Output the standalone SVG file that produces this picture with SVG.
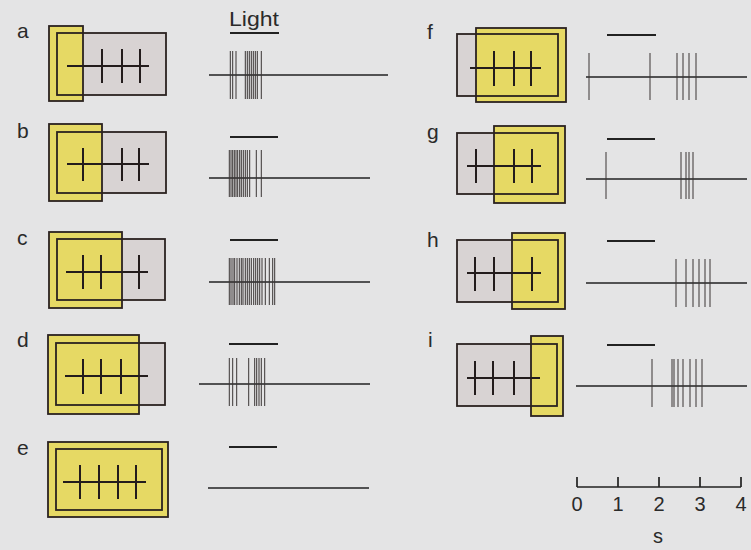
<svg xmlns="http://www.w3.org/2000/svg" width="751" height="550" viewBox="0 0 751 550">
<style>
.bg{fill:#e4e4e5}
.gray{fill:#d8d3d3}
.yel{fill:#e6d964;stroke:#2b2220;stroke-width:1.8}
.out{fill:none;stroke:#2b2220;stroke-width:1.8}
.cell{stroke:#231c1c;stroke-width:2;fill:none}
.bar{stroke:#222;stroke-width:2}
.base{stroke:#222;stroke-width:1.7}
.spk{stroke:#3a3535;stroke-width:1;fill:none}
.lbl{font-family:"Liberation Sans",Arial,sans-serif;font-size:21px;fill:#2a2a2a}
.num{font-family:"Liberation Sans",Arial,sans-serif;font-size:20px;fill:#2a2a2a;text-anchor:middle}
</style>
<rect class="bg" x="0" y="0" width="751" height="550"/>

<g id="panel-a">
<text class="lbl" x="17" y="38">a</text>
<rect class="gray" x="57" y="33" width="109" height="62"/>
<rect class="yel" x="49" y="26" width="34" height="75"/>
<rect class="out" x="57" y="33" width="109" height="62"/>
<path class="cell" d="M67 66H149M102 49V83M122 49V83M140 49V83"/>
<text class="lbl" x="229" y="26" textLength="50" lengthAdjust="spacingAndGlyphs">Light</text>
<line class="bar" x1="230" y1="33" x2="279" y2="33"/>
<line class="base" x1="209" y1="75" x2="388" y2="75"/>
<path class="spk" d="M230.3 51V99M232.7 51V99M236 51V99M245.3 51V99M247.3 51V99M249.3 51V99M251.3 51V99M253.3 51V99M255.3 51V99M257.3 51V99M261.3 51V99"/>
</g>

<g id="panel-b">
<text class="lbl" x="17" y="138">b</text>
<rect class="gray" x="57" y="132" width="109" height="61"/>
<rect class="yel" x="49" y="124" width="53" height="77"/>
<rect class="out" x="57" y="132" width="109" height="61"/>
<path class="cell" d="M67 164H149M83 148V181M122 148V181M139 148V181"/>
<line class="bar" x1="230" y1="137" x2="278" y2="137"/>
<line class="base" x1="209" y1="178" x2="370" y2="178"/>
<path class="spk" d="M229.3 150V197M231 150V197M232.7 150V197M234.3 150V197M236 150V197M237.7 150V197M239.7 150V197M241.3 150V197M243.3 150V197M245.3 150V197M247.3 150V197M249.7 150V197M256.3 150V197M261.3 150V197"/>
</g>

<g id="panel-c">
<text class="lbl" x="17" y="245">c</text>
<rect class="gray" x="57" y="239" width="108" height="61"/>
<rect class="yel" x="49" y="232" width="73" height="76"/>
<rect class="out" x="57" y="239" width="108" height="61"/>
<path class="cell" d="M66 272H148M83 255V289M101 255V289M139 255V289"/>
<line class="bar" x1="230" y1="240" x2="278" y2="240"/>
<line class="base" x1="209" y1="282" x2="370" y2="282"/>
<path class="spk" d="M229.3 258V305M231 258V305M233 258V305M234.7 258V305M237 258V305M239.3 258V305M241.3 258V305M243 258V305M245.3 258V305M247.3 258V305M249.3 258V305M251.3 258V305M253.7 258V305M255.7 258V305M257.7 258V305M259.7 258V305M262 258V305M265.3 258V305M269.3 258V305M272.7 258V305M274.7 258V305"/>
</g>

<g id="panel-d">
<text class="lbl" x="17" y="347">d</text>
<rect class="gray" x="56" y="343" width="109" height="62"/>
<rect class="yel" x="48" y="335" width="91" height="79"/>
<rect class="out" x="56" y="343" width="109" height="62"/>
<path class="cell" d="M65 376H148M83 359V394M101 359V394M121 359V394"/>
<line class="bar" x1="229" y1="344" x2="278" y2="344"/>
<line class="base" x1="199" y1="384" x2="370" y2="384"/>
<path class="spk" d="M229.3 358V406M232.7 358V406M236.7 358V406M248.7 358V406M254.7 358V406M256.7 358V406M259 358V406M261.3 358V406M264.7 358V406"/>
</g>

<g id="panel-e">
<text class="lbl" x="17" y="455">e</text>
<rect class="yel" x="48" y="442" width="120" height="75"/>
<rect class="out" x="56" y="449" width="106" height="61"/>
<path class="cell" d="M63 482H146M80 465V499M99 465V499M118 465V499M136 465V499"/>
<line class="bar" x1="229" y1="447" x2="277" y2="447"/>
<line class="base" x1="208" y1="488" x2="369" y2="488"/>
</g>

<g id="panel-f">
<text class="lbl" x="427" y="39">f</text>
<rect class="gray" x="457" y="34" width="101" height="62"/>
<rect class="yel" x="476" y="28" width="90" height="74"/>
<rect class="out" x="457" y="34" width="101" height="62"/>
<path class="cell" d="M470 68H541M494 51V86M514 51V86M531 51V86"/>
<line class="bar" x1="607" y1="35" x2="656" y2="35"/>
<line class="base" x1="586" y1="77" x2="747" y2="77"/>
<path class="spk" d="M589 53V100M650 53V100M677 53V100M683 53V100M689 53V100M696 53V100"/>
</g>

<g id="panel-g">
<text class="lbl" x="427" y="139">g</text>
<rect class="gray" x="457" y="133" width="101" height="61"/>
<rect class="yel" x="494" y="126" width="71" height="77"/>
<rect class="out" x="457" y="133" width="101" height="61"/>
<path class="cell" d="M467 166H541M476 149V183M514 149V183M532 149V183"/>
<line class="bar" x1="607" y1="139" x2="655" y2="139"/>
<line class="base" x1="586" y1="179" x2="747" y2="179"/>
<path class="spk" d="M606 152V199M681 152V199M686 152V199M689 152V199M693 152V199"/>
</g>

<g id="panel-h">
<text class="lbl" x="427" y="247">h</text>
<rect class="gray" x="457" y="240" width="101" height="62"/>
<rect class="yel" x="512" y="233" width="53" height="76"/>
<rect class="out" x="457" y="240" width="101" height="62"/>
<path class="cell" d="M467 273H541M475 257V291M494 257V291M532 257V291"/>
<line class="bar" x1="607" y1="241" x2="655" y2="241"/>
<line class="base" x1="586" y1="283" x2="747" y2="283"/>
<path class="spk" d="M676 259V307M686 259V307M693 259V307M699 259V307M705 259V307M710 259V307"/>
</g>

<g id="panel-i">
<text class="lbl" x="428" y="347">i</text>
<rect class="gray" x="457" y="344" width="100" height="62"/>
<rect class="yel" x="531" y="336" width="32" height="80"/>
<rect class="out" x="457" y="344" width="100" height="62"/>
<path class="cell" d="M467 378H540M475 361V395M493 361V395M514 361V395"/>
<line class="bar" x1="607" y1="345" x2="655" y2="345"/>
<line class="base" x1="576" y1="386" x2="747" y2="386"/>
<path class="spk" d="M652 359V407M672 359V407M674 359V407M678 359V407M683 359V407M690 359V407M696 359V407M702 359V407"/>
</g>

<g id="scale">
<path class="base" d="M577 487H741M577 477V487M618 477V487M659 477V487M700 477V487M741 477V487" fill="none"/>
<text class="num" x="577" y="511">0</text>
<text class="num" x="618" y="511">1</text>
<text class="num" x="659" y="511">2</text>
<text class="num" x="700" y="511">3</text>
<text class="num" x="741" y="511">4</text>
<text class="num" x="658" y="543">s</text>
</g>

<g id="connectors"></g>
</svg>
